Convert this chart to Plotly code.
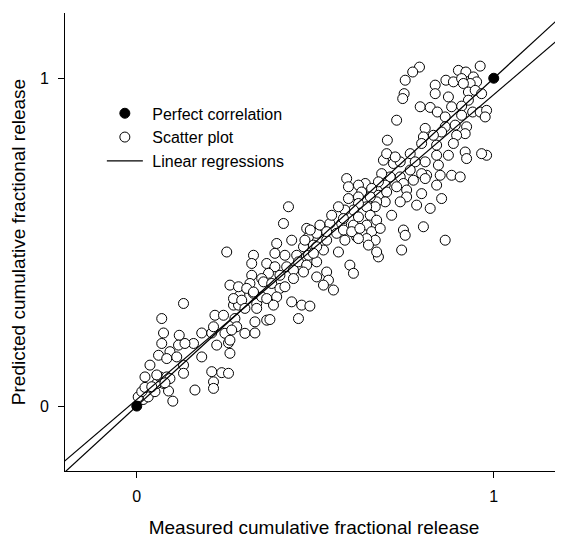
import plotly.graph_objects as go

# Measured (x) vs predicted (y) cumulative fractional release
measured = [
    0.018, 0.004, 0.032, 0.014, 0.023, 0.051, 0.089, 0.101, 0.075, 0.056,
    0.042, 0.023, 0.037, 0.065, 0.084, 0.093, 0.079, 0.061, 0.070, 0.075,
    0.119, 0.117, 0.093, 0.084, 0.112, 0.131, 0.131, 0.159, 0.135, 0.182,
    0.163, 0.210, 0.238, 0.257, 0.215, 0.215, 0.224, 0.257, 0.261, 0.182,
    0.210, 0.247, 0.303, 0.331, 0.056, 0.131, 0.070, 0.219, 0.243, 0.215,
    0.275, 0.280, 0.271, 0.289, 0.327, 0.285, 0.336, 0.331, 0.364, 0.350,
    0.411, 0.252, 0.327, 0.322, 0.392, 0.434, 0.387, 0.415, 0.448, 0.364,
    0.387, 0.420, 0.439, 0.467, 0.481, 0.476, 0.504, 0.513, 0.541, 0.574,
    0.607, 0.560, 0.583, 0.532, 0.495, 0.523, 0.565, 0.481, 0.453, 0.476,
    0.504, 0.467, 0.439, 0.401, 0.369, 0.350, 0.322, 0.317, 0.355, 0.378,
    0.401, 0.415, 0.261, 0.285, 0.308, 0.327, 0.271, 0.294, 0.364, 0.392,
    0.383, 0.336, 0.303, 0.434, 0.462, 0.485, 0.453, 0.373, 0.266, 0.261,
    0.532, 0.504, 0.537, 0.523, 0.551, 0.597, 0.607, 0.616, 0.691, 0.700,
    0.719, 0.738, 0.766, 0.780, 0.808, 0.840, 0.873, 0.920, 0.924, 0.980,
    0.966, 0.845, 0.850, 0.882, 0.906, 0.812, 0.798, 0.766, 0.738, 0.710,
    0.686, 0.775, 0.808, 0.840, 0.747, 0.728, 0.696, 0.677, 0.640, 0.621,
    0.588, 0.593, 0.630, 0.658, 0.677, 0.700, 0.756, 0.798, 0.756, 0.738,
    0.696, 0.672, 0.654, 0.621, 0.593, 0.854, 0.784, 0.822, 0.714, 0.668,
    0.644, 0.621, 0.607, 0.583, 0.565, 0.546, 0.579, 0.654, 0.672, 0.644,
    0.621, 0.486, 0.532, 0.579, 0.602, 0.625, 0.658, 0.682, 0.668, 0.644,
    0.621, 0.471, 0.504, 0.495, 0.649, 0.677, 0.672, 0.747, 0.752, 0.803,
    0.742, 0.864, 0.962, 0.792, 0.773, 0.752, 0.749, 0.745, 0.901, 0.922,
    0.866, 0.887, 0.910, 0.943, 0.952, 0.934, 0.915, 0.836, 0.836, 0.873,
    0.929, 0.948, 0.966, 0.929, 0.910, 0.882, 0.794, 0.822, 0.842, 0.864,
    0.910, 0.941, 0.962, 0.980, 0.976, 0.728, 0.808, 0.864, 0.854, 0.892,
    0.924, 0.920, 0.896, 0.831, 0.803, 0.798, 0.840, 0.702, 0.724, 0.887,
    0.425,
]
predicted = [
    0.020, 0.028, 0.028, 0.044, 0.057, 0.044, 0.046, 0.015, 0.069, 0.069,
    0.059, 0.089, 0.125, 0.089, 0.089, 0.084, 0.071, 0.155, 0.191, 0.223,
    0.216, 0.186, 0.166, 0.145, 0.150, 0.125, 0.100, 0.191, 0.191, 0.150,
    0.049, 0.105, 0.102, 0.100, 0.074, 0.054, 0.186, 0.193, 0.161, 0.223,
    0.223, 0.222, 0.222, 0.223, 0.095, 0.313, 0.267, 0.277, 0.277, 0.242,
    0.267, 0.242, 0.308, 0.338, 0.344, 0.308, 0.313, 0.257, 0.262, 0.333,
    0.557, 0.470, 0.460, 0.435, 0.496, 0.506, 0.466, 0.460, 0.460, 0.435,
    0.425, 0.425, 0.415, 0.486, 0.516, 0.542, 0.527, 0.552, 0.557, 0.557,
    0.552, 0.527, 0.506, 0.506, 0.491, 0.476, 0.470, 0.460, 0.440, 0.430,
    0.440, 0.409, 0.389, 0.399, 0.405, 0.389, 0.399, 0.374, 0.379, 0.374,
    0.359, 0.364, 0.369, 0.364, 0.359, 0.348, 0.328, 0.323, 0.328, 0.333,
    0.308, 0.298, 0.298, 0.318, 0.308, 0.305, 0.267, 0.264, 0.232, 0.201,
    0.409, 0.394, 0.384, 0.369, 0.354, 0.430, 0.405, 0.516, 0.750, 0.770,
    0.740, 0.745, 0.770, 0.745, 0.745, 0.765, 0.765, 0.775, 0.755, 0.765,
    0.770, 0.735, 0.704, 0.704, 0.699, 0.704, 0.709, 0.720, 0.699, 0.699,
    0.709, 0.689, 0.694, 0.674, 0.679, 0.669, 0.674, 0.684, 0.679, 0.674,
    0.694, 0.669, 0.653, 0.664, 0.643, 0.653, 0.659, 0.648, 0.638, 0.623,
    0.623, 0.623, 0.638, 0.638, 0.633, 0.633, 0.613, 0.603, 0.582, 0.608,
    0.608, 0.618, 0.598, 0.598, 0.608, 0.582, 0.572, 0.582, 0.567, 0.552,
    0.577, 0.537, 0.532, 0.537, 0.532, 0.542, 0.532, 0.542, 0.506, 0.511,
    0.511, 0.506, 0.486, 0.466, 0.491, 0.455, 0.470, 0.537, 0.521, 0.547,
    0.476, 0.506, 1.037, 1.034, 1.019, 0.994, 0.953, 0.938, 1.024, 1.019,
    0.994, 0.989, 0.999, 1.004, 0.989, 0.984, 0.984, 0.979, 0.953, 0.943,
    0.958, 0.963, 0.953, 0.933, 0.915, 0.913, 0.913, 0.911, 0.897, 0.882,
    0.887, 0.897, 0.897, 0.902, 0.882, 0.872, 0.847, 0.852, 0.836, 0.857,
    0.852, 0.831, 0.826, 0.826, 0.821, 0.801, 0.796, 0.811, 0.760, 0.801,
    0.608,
]

perfect_x = [0, 1]
perfect_y = [0, 1]

# Lines: perfect correlation (y = x) and fitted regression
line_slopes = [1.0, 0.93]
line_intercepts = [0.0, 0.02]
line_x_ends = [-0.3, 1.3]

x_ticks = [0, 1]
y_ticks = [0, 1]

FONT = "Liberation Sans, Arial, sans-serif"

line_x, line_y = [], []
for m, b in zip(line_slopes, line_intercepts):
    line_x += line_x_ends + [None]
    line_y += [m * v + b for v in line_x_ends] + [None]

fig = go.Figure()
fig.add_trace(go.Scatter(
    x=measured, y=predicted, mode="markers", name="\u00a0Scatter plot",
    legendrank=2,
    marker=dict(symbol="circle", size=10, color="white",
                line=dict(color="black", width=1)),
))
fig.add_trace(go.Scatter(
    x=line_x, y=line_y, mode="lines", name="\u00a0Linear regressions",
    legendrank=3, line=dict(color="black", width=1.2),
))
fig.add_trace(go.Scatter(
    x=perfect_x, y=perfect_y, mode="markers", name="\u00a0Perfect correlation",
    legendrank=1,
    marker=dict(symbol="circle", size=10, color="black",
                line=dict(color="black", width=1)),
))

axis_common = dict(
    showgrid=False, zeroline=False, showline=True, linecolor="black",
    linewidth=1, ticks="outside", ticklen=6, tickcolor="black", tickwidth=1,
    tickfont=dict(family=FONT, size=16, color="black"),
    mirror=False,
)

# The page body adds an 8px offset, so the figure is 555x530
fig.update_layout(
    width=555, height=530,
    margin=dict(l=57, r=0, t=5, b=67),
    paper_bgcolor="white", plot_bgcolor="white",
    font=dict(family=FONT, color="black"),
    showlegend=True,
    legend=dict(x=0.074, y=0.818, xanchor="left", yanchor="top",
                bgcolor="rgba(0,0,0,0)", borderwidth=0,
                itemwidth=36,
                font=dict(family=FONT, size=16, color="black"),
                tracegroupgap=0),
    xaxis=dict(range=[-0.201, 1.194], tickvals=x_ticks,
               ticktext=[str(v) for v in x_ticks],
               ticklabelstandoff=5,
               title=dict(text="Measured cumulative fractional release",
                          font=dict(family=FONT, size=19, color="black"),
                          standoff=16),
               **axis_common),
    yaxis=dict(range=[-0.198, 1.199], tickvals=y_ticks,
               ticktext=[str(v) for v in y_ticks],
               ticklabelstandoff=6,
               title=dict(text="Predicted cumulative fractional release",
                          font=dict(family=FONT, size=19, color="black"),
                          standoff=14),
               **axis_common),
)

fig.write_html("out.html")
